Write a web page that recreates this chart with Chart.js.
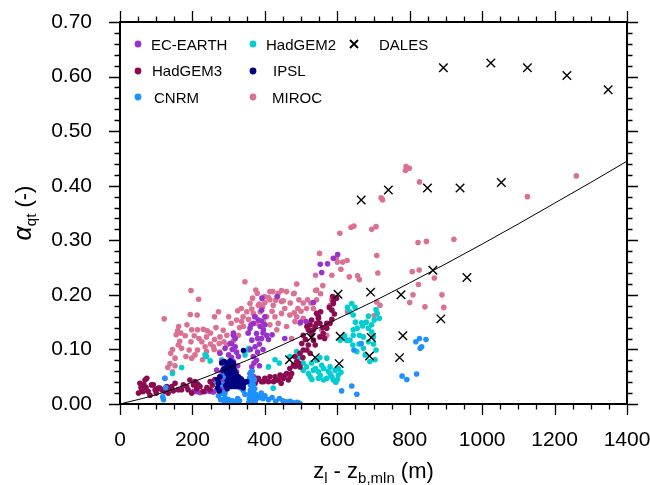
<!DOCTYPE html>
<html>
<head>
<meta charset="utf-8">
<script src="https://cdn.jsdelivr.net/npm/chart.js@4/dist/chart.umd.min.js"></script>
<style>
  html, body { margin: 0; padding: 0; background: #ffffff; }
  canvas { display: block; }
</style>
</head>
<body>
<canvas id="chart" width="650" height="485"></canvas>
<script>
// Mixing-layer moisture variance ratio versus cloud-layer depth.
const FONT = '"Liberation Sans", Arial, Helvetica, sans-serif';

const xTickValues = [0, 200, 400, 600, 800, 1000, 1200, 1400];
const xTickLabels = ['0', '200', '400', '600', '800', '1000', '1200', '1400'];
const yTickValues = [0, 0.1, 0.2, 0.3, 0.4, 0.5, 0.6, 0.7];
const yTickLabels = ['0.00', '0.10', '0.20', '0.30', '0.40', '0.50', '0.60', '0.70'];

// [depth (m), alpha_qt (-)]
const ecEarth = [
  [203,0.023],[212,0.023],[221,0.021],[230,0.023],[235,0.023],[249,0.023],[267,0.026],[212,0.038],[276,0.023],[285,0.020],
  [281,0.044],[290,0.056],[299,0.068],[276,0.093],[290,0.102],[304,0.111],[313,0.126],[304,0.056],[318,0.044],[322,0.059],
  [327,0.087],[318,0.105],[313,0.130],[318,0.120],[308,0.111],[322,0.095],[313,0.078],[281,0.078],[267,0.062],[281,0.059],
  [276,0.050],[290,0.044],[299,0.032],[285,0.030],[295,0.070],[308,0.085],
  [359,0.139],[368,0.148],[382,0.154],[387,0.142],[396,0.136],[405,0.126],[377,0.129],[364,0.117],[373,0.105],[368,0.087],
  [364,0.068],[359,0.056],[377,0.080],[391,0.120],[377,0.044],[364,0.038],[354,0.130],[385,0.110],[380,0.095],[372,0.160],
  [390,0.152],[400,0.145],[410,0.118],[395,0.100],[385,0.070],[392,0.194],[434,0.197],[391,0.172],[370,0.050],
  [499,0.150],[514,0.151],[534,0.186],[553,0.256],[557,0.241],[573,0.257],[589,0.267],[601,0.274],[420,0.127],[455,0.120],
  [300,0.090],[310,0.100],[286,0.065],[325,0.070],[380,0.120],[395,0.130],[360,0.100],[370,0.075],[400,0.160],[362,0.145],
  [240,0.025],[258,0.022]
];

const hadGem3 = [
  [51,0.020],[55,0.038],[60,0.023],[64,0.023],[69,0.044],[74,0.047],[78,0.023],[83,0.016],[87,0.035],[92,0.035],
  [97,0.026],[106,0.029],[110,0.029],[115,0.026],[124,0.023],[129,0.032],[138,0.029],[143,0.032],[152,0.038],[161,0.026],
  [170,0.026],[184,0.032],[193,0.044],[198,0.020],[203,0.035],[207,0.041],[216,0.035],[221,0.032],[230,0.023],[249,0.026],[249,0.041],
  [58,0.030],[66,0.035],[72,0.030],[100,0.020],[133,0.020],[147,0.024],[175,0.035],[188,0.026],[212,0.028],[240,0.030],
  [255,0.035],[262,0.045],
  [373,0.038],[377,0.044],[382,0.047],[391,0.041],[396,0.041],[400,0.047],[410,0.041],[414,0.050],[424,0.041],[428,0.050],
  [433,0.044],[437,0.044],[442,0.053],[451,0.047],[460,0.056],[465,0.044],[469,0.065],[474,0.056],[479,0.071],[483,0.087],
  [488,0.078],[497,0.068],[497,0.093],[502,0.111],[506,0.099],[506,0.126],[516,0.099],[516,0.142],[520,0.108],[520,0.136],
  [525,0.093],[525,0.145],[529,0.154],[534,0.117],[534,0.136],[539,0.108],[539,0.142],[543,0.148],[543,0.166],[548,0.157],
  [548,0.160],[552,0.123],[552,0.148],[554,0.169],[561,0.129],[571,0.139],[571,0.148],[578,0.177],[580,0.148],[585,0.172],
  [587,0.197],[589,0.188],[589,0.184],[598,0.194],[493,0.075],[484,0.069],
  [445,0.038],[455,0.052],[470,0.050],[505,0.085],[512,0.118],[530,0.128],[560,0.140],[565,0.120],[592,0.165],[585,0.155]
];

const cnrm = [
  [118,0.013],[120,0.008],[124,0.047],[126,0.030],
  [267,0.040],[270,0.028],[272,0.015],[275,0.050],[278,0.008],[282,0.020],[285,0.035],[288,0.005],[290,0.012],[285,0.050],[290,0.020],
  [295,0.005],[300,0.008],[305,0.003],[310,0.006],[318,0.004],[325,0.010],[330,0.006],[333,0.030],[340,0.025],[345,0.018],
  [355,0.002],[357,0.010],[358,0.018],[360,0.025],[360,0.035],[362,0.045],[362,0.005],[363,0.052],[364,0.015],[365,0.030],
  [366,0.040],[367,0.008],[368,0.022],[370,0.012],[372,0.028],[373,0.003],[375,0.018],[377,0.010],[358,0.048],[361,0.058],
  [365,0.060],[368,0.035],[371,0.045],
  [380,0.015],[385,0.012],[390,0.020],[395,0.010],[400,0.015],[410,0.008],[420,0.012],[430,0.005],[440,0.010],[450,0.006],
  [460,0.004],[470,0.005],[480,0.002],[490,0.003],[497,0.001],
  [612,0.024],[640,0.033],[654,0.018],[646,0.099],[666,0.111],[779,0.051],[792,0.045],[819,0.055],[817,0.114],[827,0.120],
  [845,0.118],[829,0.102],[833,0.105]
];

const hadGem2 = [
  [145,0.056],[170,0.067],[239,0.087],[249,0.079],[281,0.081],[345,0.090],[354,0.099],[356,0.102],[235,0.090],
  [410,0.068],[428,0.081],[423,0.029],[469,0.087],[488,0.096],[440,0.075],
  [506,0.062],[520,0.056],[534,0.062],[548,0.059],[562,0.065],[580,0.056],[594,0.062],[571,0.047],[548,0.047],[589,0.044],
  [603,0.053],[571,0.084],[529,0.075],[557,0.071],[580,0.068],[543,0.080],[603,0.065],[525,0.050],[562,0.044],[506,0.075],
  [585,0.050],[596,0.040],[553,0.052],
  [515,0.068],[540,0.065],[575,0.060],[600,0.045],[610,0.058],[530,0.045],[552,0.085],[495,0.085],[480,0.070],
  [640,0.184],[628,0.177],[649,0.177],[644,0.163],[635,0.169],[707,0.173],[716,0.157],[702,0.154],[686,0.161],[695,0.145],
  [667,0.149],[670,0.143],[644,0.136],[655,0.139],[661,0.126],[672,0.123],[644,0.126],[626,0.117],[635,0.117],[643,0.108],
  [686,0.139],[695,0.132],[686,0.114],[700,0.123],[707,0.099],[677,0.090],[704,0.081],[654,0.096],[608,0.117],[690,0.078],
  [672,0.102],[710,0.166],[660,0.110],[620,0.125],[680,0.150],[650,0.150],[700,0.110]
];

const ipsl = [
  [304,0.079],[300,0.075],[308,0.074],[296,0.070],[304,0.068],[313,0.068],[300,0.062],[308,0.060],[316,0.062],[296,0.056],
  [304,0.054],[313,0.054],[320,0.056],[300,0.048],[308,0.046],[316,0.048],[324,0.050],[328,0.045],[296,0.042],[304,0.040],
  [312,0.040],[320,0.040],[328,0.038],[336,0.040],[340,0.035],[292,0.034],[300,0.033],[308,0.032],[316,0.032],[324,0.032],
  [332,0.032],[340,0.030],[296,0.028],[318,0.036],[270,0.045],[272,0.038],[270,0.030],[274,0.024],[276,0.050],[281,0.075],
  [285,0.062],[334,0.046],[345,0.040],[350,0.041],[336,0.044],[322,0.038],[327,0.050],[313,0.075],[290,0.066],[288,0.078],
  [341,0.098]
];

const miroc = [
  [790,0.435],[799,0.432],[788,0.428],[827,0.407],[721,0.378],[725,0.374],[1260,0.418],[1125,0.380],
  [607,0.313],[638,0.324],[646,0.326],[695,0.320],[707,0.325],[922,0.302],[823,0.296],[846,0.298],
  [551,0.276],[709,0.272],[597,0.267],[600,0.260],[615,0.260],[627,0.263],[610,0.247],
  [540,0.236],[585,0.236],[633,0.233],[656,0.235],[661,0.228],[712,0.240],[807,0.2425],[826,0.2455],[868,0.231],[824,0.219],
  [809,0.200],[800,0.186],[842,0.178],[889,0.200],[894,0.177],[709,0.187],[718,0.181],[702,0.162],[628,0.169],
  [122,0.156],[196,0.208],[217,0.192],[194,0.164],[213,0.163],[261,0.160],[272,0.169],[325,0.171],[350,0.169],
  [307,0.148],[322,0.154],[336,0.151],[162,0.142],[159,0.134],[168,0.130],[155,0.127],[198,0.136],[214,0.136],[230,0.137],
  [241,0.134],[250,0.130],[196,0.114],[218,0.120],[239,0.123],[226,0.114],[261,0.118],[276,0.123],[295,0.126],[274,0.111],
  [287,0.114],[140,0.093],[152,0.084],[138,0.074],[132,0.067],[152,0.070],[145,0.059],[124,0.047],[161,0.108],[170,0.102],
  [191,0.099],[198,0.084],[214,0.099],[239,0.096],[258,0.105],[295,0.108],[182,0.087],[207,0.090],[228,0.081],[327,0.126],
  [313,0.116],[341,0.142],[354,0.130],
  [180,0.125],[205,0.125],[185,0.145],[265,0.140],[285,0.135],[300,0.160],[340,0.160],[335,0.175],[260,0.100],[275,0.095],
  [250,0.110],[235,0.105],[165,0.115],[145,0.100],[330,0.140],
  [345,0.224],[375,0.209],[399,0.197],[422,0.206],[446,0.208],[435,0.197],[481,0.203],[540,0.208],[518,0.191],[543,0.191],
  [366,0.194],[359,0.184],[385,0.183],[394,0.178],[364,0.174],[451,0.189],[410,0.195],[491,0.175],[481,0.167],[494,0.191],
  [488,0.220],[560,0.217],[543,0.209],[554,0.202],[379,0.203],[414,0.206],[437,0.203],[460,0.206],[479,0.202],
  [382,0.181],[400,0.186],[414,0.191],[423,0.181],[446,0.188],[506,0.185],[527,0.185],[534,0.175],[580,0.181],[585,0.191],
  [368,0.166],[387,0.169],[405,0.160],[428,0.160],[446,0.166],[469,0.163],[488,0.160],[506,0.157],[483,0.151],[497,0.148],
  [377,0.148],[396,0.151],[414,0.145],[437,0.148],[460,0.142],[433,0.136],[474,0.120],[557,0.136],[571,0.126],
  [420,0.170],[455,0.175],[470,0.185],[500,0.170],[515,0.175],[430,0.190],[375,0.160],[355,0.155]
];

const dales = [
  [893,0.616],[1024,0.625],[1125,0.616],[1234,0.602],[1348,0.576],[666,0.374],[741,0.392],[849,0.396],[939,0.396],[1053,0.406],
  [864,0.245],[958,0.232],[602,0.201],[692,0.205],[776,0.200],[886,0.156],[608,0.124],[694,0.122],[781,0.125],[528,0.122],
  [539,0.085],[468,0.081],[689,0.088],[772,0.085],[605,0.074]
];

// Fitted relation through all model points
const fitDepth = [0, 100, 200, 300, 400, 500, 600, 700, 800, 900, 1000, 1100, 1200, 1300, 1400];
const fitAlpha = [0, 0.017, 0.040, 0.066, 0.094, 0.124, 0.156, 0.188, 0.222, 0.257, 0.293, 0.330, 0.368, 0.406, 0.445];

const COLORS = {
  'EC-EARTH': '#9932CC',
  'HadGEM3': '#8B0A50',
  'CNRM': '#1E90FF',
  'HadGEM2': '#00CED1',
  'IPSL': '#000080',
  'MIROC': '#DB7093',
  'DALES': '#000000'
};

const toPoints = arr => arr.map(([x, y]) => ({ x, y }));
const dotSet = (label, arr) => ({
  type: 'scatter', label, data: toPoints(arr),
  pointStyle: 'circle', pointRadius: 2.8, pointHoverRadius: 2.8,
  pointBorderWidth: 0, backgroundColor: COLORS[label], borderColor: COLORS[label]
});

// Outward major/minor ticks plus the frame
const frameTicks = {
  id: 'frameTicks',
  afterDraw(chart) {
    const { ctx, chartArea: a, scales: { x, y } } = chart;
    ctx.save();
    ctx.strokeStyle = '#000';
    ctx.lineWidth = 1.3;
    ctx.beginPath();
    for (let v = 0; v <= 1400; v += 50) {
      const px = Math.round(x.getPixelForValue(v)) + 0.5;
      const len = v % 200 === 0 ? 11 : 5.5;
      ctx.moveTo(px, a.bottom); ctx.lineTo(px, a.bottom + len);
      ctx.moveTo(px, a.top); ctx.lineTo(px, a.top - len);
    }
    for (let i = 0; i <= 35; i++) {
      const v = i * 0.02;
      const py = Math.round(y.getPixelForValue(v)) + 0.5;
      const len = i % 5 === 0 ? 11 : 5.5;
      ctx.moveTo(a.left, py); ctx.lineTo(a.left - len, py);
      ctx.moveTo(a.right, py); ctx.lineTo(a.right + len, py);
    }
    ctx.stroke();
    ctx.lineWidth = 2;
    ctx.strokeRect(a.left, a.top, a.right - a.left, a.bottom - a.top);
    ctx.restore();
  }
};

// Legend in three rows, laid out column by column
const legendSlots = [
  { name: 'EC-EARTH', mx: 138, tx: 151, my: 44, ty: 49.5 },
  { name: 'HadGEM3',  mx: 138, tx: 152, my: 71, ty: 76 },
  { name: 'CNRM',     mx: 138, tx: 154, my: 97, ty: 102.5 },
  { name: 'HadGEM2',  mx: 253, tx: 266, my: 44, ty: 49.5 },
  { name: 'IPSL',     mx: 253, tx: 273, my: 71, ty: 76 },
  { name: 'MIROC',    mx: 253, tx: 272, my: 97, ty: 102.5 },
  { name: 'DALES',    mx: 354, tx: 379, my: 44, ty: 49.5 }
];
const boxLegend = {
  id: 'boxLegend',
  afterDraw(chart) {
    const ctx = chart.ctx;
    ctx.save();
    ctx.font = '15px ' + FONT;
    ctx.textBaseline = 'alphabetic';
    ctx.textAlign = 'left';
    legendSlots.forEach(s => {
      if (s.name === 'DALES') {
        ctx.strokeStyle = '#000';
        ctx.lineWidth = 2;
        ctx.beginPath();
        ctx.moveTo(s.mx - 4, s.my - 4); ctx.lineTo(s.mx + 4, s.my + 4);
        ctx.moveTo(s.mx + 4, s.my - 4); ctx.lineTo(s.mx - 4, s.my + 4);
        ctx.stroke();
      } else {
        ctx.fillStyle = COLORS[s.name];
        ctx.beginPath();
        ctx.arc(s.mx, s.my, 3.4, 0, Math.PI * 2);
        ctx.fill();
      }
      ctx.fillStyle = '#000';
      ctx.fillText(s.name, s.tx, s.ty);
    });
    ctx.restore();
  }
};

// Axis titles with subscripts
function drawRuns(ctx, runs, x0, y0) {
  let x = x0;
  runs.forEach(r => {
    ctx.font = r.font;
    ctx.fillText(r.t, x, y0 + (r.dy || 0));
    x += ctx.measureText(r.t).width;
  });
}
function runsWidth(ctx, runs) {
  let w = 0;
  runs.forEach(r => { ctx.font = r.font; w += ctx.measureText(r.t).width; });
  return w;
}
const axisTitles = {
  id: 'axisTitles',
  afterDraw(chart) {
    const { ctx, chartArea: a } = chart;
    ctx.save();
    ctx.fillStyle = '#000';
    ctx.textBaseline = 'alphabetic';
    ctx.textAlign = 'left';
    const main = '22px ' + FONT, sub = '15px ' + FONT;
    const xRuns = [
      { t: 'z', font: main }, { t: 'l', font: sub, dy: 5 },
      { t: ' - z', font: main }, { t: 'b,mln', font: sub, dy: 5 },
      { t: ' (m)', font: main }
    ];
    const cx = (a.left + a.right) / 2;
    drawRuns(ctx, xRuns, cx - runsWidth(ctx, xRuns) / 2, 478);

    const yRuns = [
      { t: '\u03B1', font: 'italic 25px ' + FONT }, { t: 'qt', font: sub, dy: 5 },
      { t: ' (-)', font: main }
    ];
    const cy = (a.top + a.bottom) / 2;
    ctx.translate(31, cy);
    ctx.rotate(-Math.PI / 2);
    drawRuns(ctx, yRuns, -runsWidth(ctx, yRuns) / 2, 0);
    ctx.restore();
  }
};

new Chart(document.getElementById('chart'), {
  data: {
    datasets: [
      {
        type: 'line', label: 'fit',
        data: fitDepth.map((d, i) => ({ x: d, y: fitAlpha[i] })),
        borderColor: '#000', borderWidth: 1, pointRadius: 0, fill: false,
        cubicInterpolationMode: 'monotone'
      },
      {
        type: 'scatter', label: 'DALES', data: toPoints(dales),
        pointStyle: 'crossRot', pointRadius: 6, pointHoverRadius: 6,
        pointBorderWidth: 1.4, borderColor: '#000', backgroundColor: '#000'
      },
      dotSet('IPSL', ipsl),
      dotSet('CNRM', cnrm),
      dotSet('HadGEM3', hadGem3),
      dotSet('EC-EARTH', ecEarth),
      dotSet('HadGEM2', hadGem2),
      dotSet('MIROC', miroc)
    ]
  },
  options: {
    responsive: false,
    devicePixelRatio: 1,
    animation: false,
    layout: { padding: 0 },
    plugins: { legend: { display: false }, tooltip: { enabled: false } },
    scales: {
      x: {
        type: 'linear', min: 0, max: 1400,
        grid: { display: false, drawTicks: false },
        border: { display: false },
        afterBuildTicks: s => { s.ticks = xTickValues.map(v => ({ value: v })); },
        ticks: {
          maxRotation: 0, autoSkip: false, padding: 24, color: '#000',
          font: { family: FONT, size: 21 },
          callback: (v, i) => xTickLabels[i]
        },
        afterFit: s => { s.height = 81; s.paddingLeft = 0; s.paddingRight = 23; }
      },
      y: {
        type: 'linear', min: 0, max: 0.7,
        grid: { display: false, drawTicks: false },
        border: { display: false },
        afterBuildTicks: s => { s.ticks = yTickValues.map(v => ({ value: v })); },
        ticks: {
          autoSkip: false, padding: 28, color: '#000',
          font: { family: FONT, size: 21 },
          callback: (v, i) => yTickLabels[i]
        },
        afterFit: s => { s.width = 120; s.paddingTop = 22; s.paddingBottom = 0; }
      }
    }
  },
  plugins: [frameTicks, boxLegend, axisTitles]
});
</script>
</body>
</html>
